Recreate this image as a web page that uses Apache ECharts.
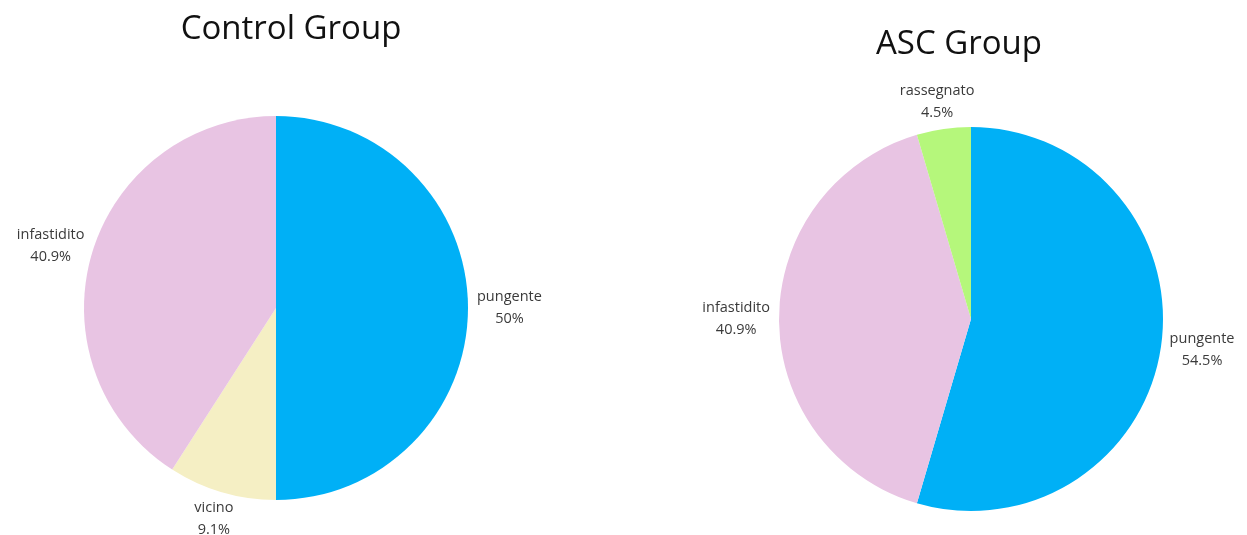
<!DOCTYPE html>
<html><head><meta charset="utf-8">
<script src="https://cdn.jsdelivr.net/npm/echarts@6/dist/echarts.min.js"></script>
<style>html,body{margin:0;padding:0;background:#fff}#c{width:1247px;height:535px}</style>
</head><body><div id="c"></div>
<script>
const controlCategories = ['pungente', 'vicino', 'infastidito'];
const controlValues = [11, 2, 9];
const controlColors = ['#00B0F6', '#F5EFC4', '#E8C4E3'];
const ascCategories = ['pungente', 'infastidito', 'rassegnato'];
const ascValues = [12, 9, 1];
const ascColors = ['#00B0F6', '#E8C4E3', '#B5F77B'];
const titles = ['Control Group', 'ASC Group'];

const pies = [
  {cats: controlCategories, vals: controlValues, colors: controlColors, center: [276, 308], r: 192},
  {cats: ascCategories, vals: ascValues, colors: ascColors, center: [971, 319], r: 192}
];

function midAngles(vals) {
  const tot = vals.reduce((a, b) => a + b, 0);
  let acc = 0;
  return vals.map(v => { const m = (acc + v / 2) / tot * 2 * Math.PI; acc += v; return m; });
}

const chart = echarts.init(document.getElementById('c'));
const series = pies.map((p, si) => {
  const mids = midAngles(p.vals);
  return {
    type: 'pie',
    center: p.center,
    radius: p.r,
    startAngle: 90,
    clockwise: true,
    avoidLabelOverlap: false,
    data: p.cats.map((c, i) => ({name: c, value: p.vals[i], itemStyle: {color: p.colors[i]}})),
    itemStyle: {borderWidth: 0},
    emphasis: {disabled: true},
    labelLine: {show: false},
    label: {
      show: true,
      position: 'outside',
      formatter: prm => '{n|' + prm.name + '}\n{n|' + Number(prm.percent.toFixed(1)) + '%}',
      rich: {n: {fontFamily: 'Open Sans', fontSize: 14.5, color: '#3a3a3a', align: 'center', lineHeight: 22}}
    },
    labelLayout: prm => {
      const a = mids[prm.dataIndex];
      const ux = Math.sin(a), uy = -Math.cos(a);
      const gap = 9;
      const w = prm.labelRect.width, h = prm.labelRect.height;
      return {
        x: p.center[0] + (p.r + gap) * ux + ux * w / 2,
        y: p.center[1] + (p.r + gap) * uy + uy * h / 2,
        align: 'center',
        verticalAlign: 'middle'
      };
    }
  };
});

chart.setOption({
  animation: false,
  title: [
    {text: titles[0], left: 286, top: 8, textAlign: 'center', textStyle: {fontFamily: 'Open Sans', fontSize: 33, fontWeight: 'normal', color: '#111'}},
    {text: titles[1], left: 954, top: 23, textAlign: 'center', textStyle: {fontFamily: 'Open Sans', fontSize: 33, fontWeight: 'normal', color: '#111'}}
  ],
  series: series
});
</script></body></html>
